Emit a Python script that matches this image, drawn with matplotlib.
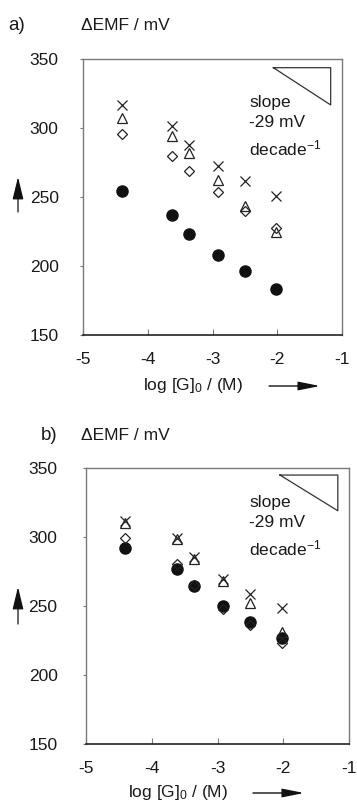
import matplotlib
matplotlib.use("Agg")
import matplotlib.pyplot as plt

plt.rcParams['font.family'] = ['Liberation Sans', 'DejaVu Sans']
plt.rcParams['mathtext.fontset'] = 'custom'
plt.rcParams['mathtext.rm'] = 'Liberation Sans'
plt.rcParams['mathtext.it'] = 'Liberation Sans'

# ---- data ----
log_g = [-4.4, -3.62, -3.36, -2.92, -2.5, -2.02]

a_cross = [316.5, 301.4, 287.5, 272.3, 261.8, 251.0]
a_tri = [307.5, 294.0, 282.0, 262.5, 243.5, 225.0]
a_diamond = [295.4, 280.0, 269.0, 253.3, 240.0, 227.5]
a_circle = [254.2, 236.8, 223.4, 208.2, 196.6, 183.3]

b_cross = [312.0, 299.2, 285.9, 269.8, 258.6, 248.4]
b_tri = [310.0, 298.5, 284.5, 268.5, 252.5, 231.0]
b_diamond = [299.5, 280.5, 265.5, 248.0, 236.0, 223.0]
b_circle = [292.5, 277.0, 264.6, 250.0, 238.5, 227.0]

xticks = [-5, -4, -3, -2, -1]
yticks = [150, 200, 250, 300, 350]

W, H = 357, 801
fig = plt.figure(figsize=(W / 100, H / 100), dpi=100)

TXT = '#1a1a1a'
FRAME = '#7a7a7a'
FS = 12.5


def px(x, y):
    return x / W, 1 - y / H


def make_panel(rect, cross, tri, diamond, circle, tri_pts, letter, letter_xy, ylab_xy,
               xlab_xy, xarrow, yarrow, text_xy, ypad):
    ax = fig.add_axes(rect)
    ax.set_xlim(-5, -1)
    ax.set_ylim(150, 350)
    ax.set_xticks(xticks)
    ax.set_yticks(yticks)
    ax.set_xticklabels([str(t) for t in xticks], fontsize=FS, color=TXT)
    ax.set_yticklabels([str(t) for t in yticks], fontsize=FS, color=TXT)
    ax.tick_params(axis='x', direction='in', length=4, width=0.8, color=FRAME, pad=12)
    ax.tick_params(axis='y', direction='out', length=2.5, width=0.8, color=FRAME, pad=ypad)
    for s in ax.spines.values():
        s.set_color(FRAME)
        s.set_linewidth(1.0)
    ax.spines['bottom'].set_color('#222222')
    ax.spines['bottom'].set_linewidth(1.2)
    ax.plot(log_g, circle, 'o', ms=8, color='#111111', mec='#111111', zorder=3)
    ax.plot(log_g, diamond, 'D', ms=5.4, mfc='none', mec='#222222', mew=0.9, zorder=4)
    ax.plot(log_g, tri, '^', ms=7.8, mfc='none', mec='#222222', mew=0.9, zorder=4)
    ax.plot(log_g, cross, 'x', ms=7.8, color='#222222', mew=0.9, zorder=5)
    # slope triangle
    (x1, x2, ytop, ybot) = tri_pts
    ax.plot([x1, x2, x2, x1], [ytop, ytop, ybot, ytop], '-', color='#333333', lw=0.9, zorder=2)
    # slope text
    tx, ty = text_xy
    ax.text(tx, ty, 'slope\n-29 mV\ndecade$^{-1}$', transform=fig.transFigure,
            fontsize=FS, color=TXT, va='top', ha='left', linespacing=1.45)
    fig.text(*px(*letter_xy), letter, fontsize=13.5, color=TXT, va='center', ha='left')
    fig.text(*px(*ylab_xy), '\u0394EMF / mV', fontsize=FS, color=TXT, va='center', ha='left')
    fig.text(*px(*xlab_xy), 'log [G]$_0$ / (M)', fontsize=FS, color=TXT, va='center', ha='left')
    xa = dict(arrowstyle='-|>,head_length=1.1,head_width=0.22', color='#111111', lw=1.0,
              shrinkA=0, shrinkB=0)
    ya = dict(arrowstyle='-|>,head_length=1.15,head_width=0.28', color='#111111', lw=0.9,
              shrinkA=0, shrinkB=0)
    fig.add_artist(matplotlib.patches.FancyArrowPatch(px(xarrow[0], xarrow[2]), px(xarrow[1], xarrow[2]),
                                                      transform=fig.transFigure, mutation_scale=12,
                                                      **xa))
    fig.add_artist(matplotlib.patches.FancyArrowPatch(px(yarrow[0], yarrow[1]), px(yarrow[0], yarrow[2]),
                                                      transform=fig.transFigure, mutation_scale=12,
                                                      **ya))
    return ax


# panel a
make_panel([83 / W, 1 - 335 / H, 259 / W, 276 / H], a_cross, a_tri, a_diamond, a_circle,
           (-2.06, -1.175, 343.7, 316.7), 'a)', (8, 25), (81, 25), (143, 385),
           (269, 320, 386), (18, 212, 177), px(249, 95), 15)

# panel b
make_panel([86 / W, 1 - 744 / H, 263 / W, 275.7 / H], b_cross, b_tri, b_diamond, b_circle,
           (-2.05, -1.17, 345.1, 319.2), 'b)', (41, 435), (81, 435), (128, 792),
           (253, 304, 793), (18, 624, 587), px(249, 495), 18)

fig.savefig('out.png', dpi=100)
